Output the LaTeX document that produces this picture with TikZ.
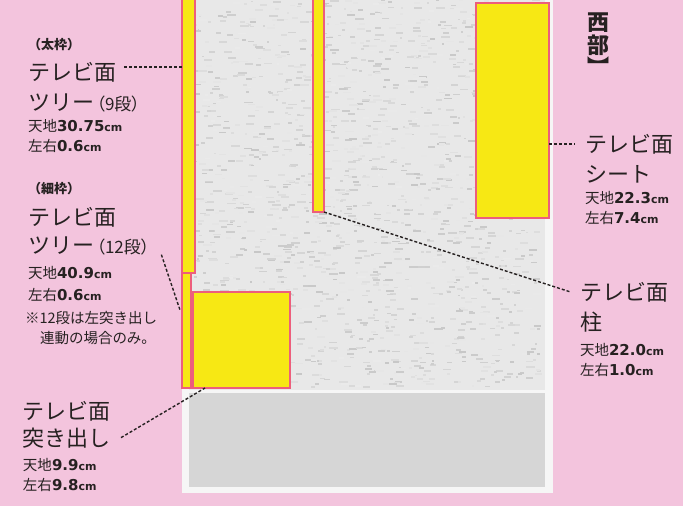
\documentclass[tikz,border=0pt]{standalone}
\usepackage{fontspec}
\setmainfont{Noto Sans CJK JP}
\newfontfamily\numfont{DejaVu Sans}
\usetikzlibrary{positioning}

\definecolor{bgpink}{RGB}{243,196,221}
\definecolor{tvyellow}{RGB}{247,232,20}
\definecolor{tvred}{RGB}{237,94,124}
\definecolor{paperwhite}{RGB}{246,246,246}
\definecolor{paper}{RGB}{232,232,232}
\definecolor{adgray}{RGB}{214,214,214}
\definecolor{ink}{RGB}{38,33,33}

\newcommand{\sizeline}[2]{{\fontsize{14.5}{16}\selectfont #1}%
  {\fontsize{15}{16}\selectfont\numfont\bfseries #2}%
  {\fontsize{11}{16}\selectfont\numfont\bfseries cm}}
\newcommand{\dan}[1]{\kern2.5pt{\fontsize{17}{18}\selectfont\addfontfeature{RawFeature=+palt}（#1段）}}

\begin{document}
\begin{tikzpicture}[x=1pt, y=-1pt,
  every node/.style = {inner sep=0pt, outer sep=0pt, text=ink, anchor=base west},
  tvbox/.style = {draw=tvred, line width=1.6pt, fill=tvyellow,
                  anchor=north west},
  lead/.style  = {draw=ink, line width=1.4pt, dash pattern=on 3pt off 2pt},
  labhead/.style = {font=\fontsize{22}{24}\selectfont},
  labnote/.style = {font=\fontsize{13}{14}\selectfont\bfseries},
  labsmall/.style = {font=\fontsize{14.5}{16}\selectfont},
  labdim/.style = {},
  region/.style = {font=\fontsize{22}{22}\selectfont\bfseries},
                    ]
%---
\fill[bgpink] (0,0) rectangle (683,506);
\useasboundingbox (0,0) rectangle (683,506);
\clip (0,0) rectangle (683,506);

% newspaper page
\fill[paperwhite] (182,-5) rectangle (553,493);
\fill[paper] (189,-5) rectangle (545,390);
\pgfmathsetseed{7}
\foreach \k in {1,...,1700}{
  \pgfmathsetmacro\tx{192+346*rnd}
  \pgfmathsetmacro\ty{-4+390*rnd}
  \pgfmathsetmacro\tw{2+7*rnd}
  \pgfmathsetmacro\tg{8+14*rnd}
  \fill[black!\tg] (\tx,\ty) rectangle ++(\tw,1.8);
}
\fill[adgray] (189,393) rectangle (545,487);

% ad frames
\node (tree12) [tvbox, minimum width=9pt, minimum height=391pt] at (182,-3) {};
\node (tree9) [tvbox, minimum width=13pt, minimum height=276pt] at (182,-3) {};
\node (pillar) [tvbox, minimum width=11pt, minimum height=215pt] at (313,-3) {};
\node (sheet) [tvbox, minimum width=73pt, minimum height=215pt] at (476,3) {};
\node (tsuki) [tvbox, minimum width=97pt, minimum height=96pt] at (193,292) {};

% region
\node (west1) [region] at (587,30) {西};
\node (west2) [region] at (587,53) {部};
\node (west3) [region] at (587,75) {\addfontfeature{RawFeature=+vert}】};

% thick frame tree
\node (n9) [labnote] at (28,49) {（太枠）};
\node (h9) [labhead] at (28,80) {テレビ面};
\node (r9) [labhead] at (28,110) {ツリー\dan{9}};
\node (d9a) [labdim] at (28,131) {\sizeline{天地}{30.75}};
\node (d9b) [labdim] at (28,151) {\sizeline{左右}{0.6}};

% thin frame tree
\node (n12) [labnote] at (28,193) {（細枠）};
\node (h12) [labhead] at (28,225) {テレビ面};
\node (r12) [labhead] at (28,253) {ツリー\dan{12}};
\node (d12a) [labdim] at (28,278) {\sizeline{天地}{40.9}};
\node (d12b) [labdim] at (28,300) {\sizeline{左右}{0.6}};
\node (m12a) [labsmall] at (25,323) {※12段は左突き出し};
\node (m12b) [labsmall] at (40,343) {連動の場合のみ。};

% tsukidashi
\node (htk) [labhead] at (23,419) {テレビ面};
\node (rtk) [labhead] at (23,446) {突き出し};
\node (dtka) [labdim] at (23,470) {\sizeline{天地}{9.9}};
\node (dtkb) [labdim] at (23,490) {\sizeline{左右}{9.8}};

% sheet
\node (hst) [labhead] at (585,152) {テレビ面};
\node (rst) [labhead] at (585,182) {シート};
\node (dsta) [labdim] at (585,203) {\sizeline{天地}{22.3}};
\node (dstb) [labdim] at (585,223) {\sizeline{左右}{7.4}};

% pillar
\node (hpl) [labhead] at (580,300) {テレビ面};
\node (rpl) [labhead] at (580,330) {柱};
\node (dpla) [labdim] at (580,355) {\sizeline{天地}{22.0}};
\node (dplb) [labdim] at (580,375) {\sizeline{左右}{1.0}};

% leaders
\draw[lead] ([xshift=8pt,yshift=5pt]h9.east) -- ([yshift=5pt]h9.east -| tree9.west);
\draw[lead] ([xshift=12pt]r12.south east) -- ([xshift=-2pt]tree12.west |- 0,310);
\draw[lead] (sheet.east |- hst.west) -- ([xshift=-10pt]hst.west);
\draw[lead] (pillar.south east) -- ([xshift=-10pt]hpl.west);
\draw[lead] ([xshift=10pt]rtk.east) -- ([xshift=12pt]tsuki.south west);

\end{tikzpicture}
\end{document}
